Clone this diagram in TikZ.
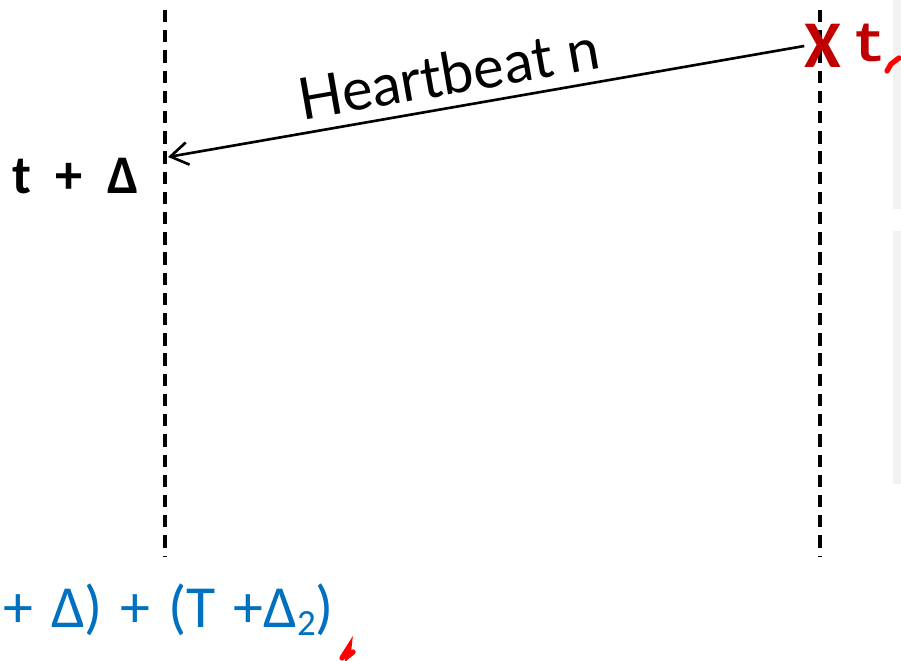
\documentclass[tikz,border=0pt]{standalone}
\usepackage{fontspec}
\setmainfont{Carlito}
\newfontfamily\hbfont{Lato}
\newfontfamily\monofont{Liberation Mono}
\usepackage{xcolor}
\usetikzlibrary{positioning, arrows.meta, calc}
\definecolor{tblue}{HTML}{0070C0}
\definecolor{tred}{HTML}{C00000}
\newcommand{\lowtwo}{\raisebox{-0.3ex}{\fontsize{21}{21}\selectfont 2}}
\newcommand{\gap}{\hspace{0.3em}}

\begin{document}
\begin{tikzpicture}[x=0.02cm, y=-0.02cm,
  tl/.style={dash pattern=on 7pt off 4.5pt, line width=1.9pt},
  ar/.style={-{Straight Barb[length=3.5mm,width=4.5mm]}, line width=1.5pt},
  ink/.style={red, line width=3pt, line cap=round}]
\useasboundingbox (0,0) rectangle (901,661);
% side panels
\fill[black!5] (893,0) rectangle (901,209);
\fill[black!5] (893,231) rectangle (901,484);
% timelines
\coordinate (ltop) at (165,10);
\coordinate (lbot) at (165,556);
\coordinate (rtop) at (820,10);
\coordinate (rbot) at (820,556);
\draw[tl] (ltop) -- (lbot);
\draw[tl] (rtop) -- (rbot);
% sender crash
\node[text=tred, font=\bfseries\fontsize{38}{38}\selectfont, inner sep=0pt] (x) at (823,46) {X};
\node[text=tred, font=\monofont\bfseries\fontsize{32}{32}\selectfont, inner sep=0pt, anchor=west] (tt) at (852,43) {t};
% heartbeat
\coordinate (hit) at (168,157);
\draw[ar] (x.west) -- (hit) node[pos=0.55, above=3pt, sloped, font=\hbfont\fontsize{33}{33}\selectfont] (hb) {Heartbeat n};
\node[font=\bfseries\fontsize{31}{31}\selectfont, anchor=base east, inner sep=0pt] (arr) at (139,194) {t\hspace{0.45em}+\hspace{0.45em}Δ};
% timeout
\node[text=tblue, font=\fontsize{34}{34}\selectfont, anchor=base west, inner sep=0pt] (to) at (3,627) {+\gap Δ)\gap +\gap (T\gap +Δ\lowtwo)};
% pen marks
\draw[ink] (887,71) -- (891,64) -- (899,58);
\draw[ink] (342,658) -- (349,647) -- (348,656) -- (353,652);
\end{tikzpicture}
\end{document}
